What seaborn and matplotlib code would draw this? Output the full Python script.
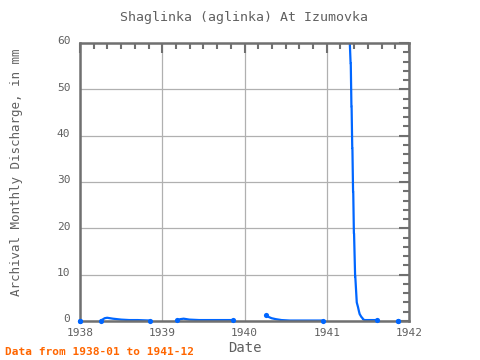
import numpy as np
import pandas as pd
import matplotlib
matplotlib.use("Agg")
import matplotlib.pyplot as plt
import seaborn as sns
from matplotlib.ticker import MultipleLocator
from matplotlib.transforms import ScaledTranslation

# decimal-year dates and discharge (mm), one list per unbroken run of data
seg_dates = [
    [1938.00],
    [1938.255, 1938.30, 1938.33, 1938.40, 1938.50, 1938.60, 1938.70, 1938.85],
    [1939.18, 1939.22, 1939.26, 1939.33, 1939.45, 1939.60, 1939.75, 1939.86],
    [1940.26, 1940.29, 1940.33, 1940.38, 1940.45, 1940.55, 1940.70, 1940.95],
    [1941.28, 1941.29, 1941.292, 1941.30, 1941.302, 1941.31, 1941.312, 1941.32,
     1941.322, 1941.33, 1941.332, 1941.345, 1941.347, 1941.362, 1941.365,
     1941.38, 1941.39, 1941.40, 1941.42, 1941.435, 1941.44, 1941.46,
     1941.50, 1941.61],
    [1941.87],
]
seg_values = [
    [0.1],
    [0.1, 0.6, 0.7, 0.5, 0.3, 0.2, 0.2, 0.1],
    [0.2, 0.4, 0.5, 0.3, 0.2, 0.2, 0.2, 0.2],
    [1.2, 0.9, 0.6, 0.4, 0.2, 0.1, 0.1, 0.1],
    [60.2, 55.6, 55.6, 46.3, 46.3, 37.3, 37.3, 27.9,
     27.9, 18.9, 18.9, 9.6, 9.6, 4.9, 4.0,
     3.0, 2.2, 1.5, 0.9, 0.6, 0.4, 0.2,
     0.2, 0.2],
    [0.1],
]

title = "Shaglinka (aglinka) At Izumovka"
ylabel = "Archival Monthly Discharge, in mm"
xlabel = "Date"
note = "Data from 1938-01 to 1941-12"

sns.set_style("white")
plt.rcParams["font.family"] = ["DejaVu Sans Mono", "Liberation Mono"]

line_color = "#0066ff"
axis_gray = "#707070"
text_gray = "#606060"
ymax = 60

fig = plt.figure(figsize=(4.8, 3.6), dpi=100)
ax = fig.add_axes([80 / 480, 1 - 321 / 360, 329 / 480, 278 / 360])

for d, v in zip(seg_dates, seg_values):
    df = pd.DataFrame({"date": d, "value": v})
    if len(df) > 1:
        sns.lineplot(data=df, x="date", y="value", ax=ax, color=line_color,
                     linewidth=1.6, estimator=None, sort=False)
    ends = df.iloc[[0, -1]]
    ends = ends[ends["value"] <= ymax]
    sns.scatterplot(data=ends, x="date", y="value", ax=ax, color=line_color,
                    s=14, linewidth=0, zorder=5, clip_on=False)

ax.set_xlim(1938, 1942)
ax.set_ylim(0, ymax)
ax.xaxis.set_minor_locator(MultipleLocator(1 / 6))
ax.yaxis.set_major_locator(MultipleLocator(10))
ax.yaxis.set_minor_locator(MultipleLocator(2))
ax.set_xticks([1938, 1939, 1940, 1941, 1942])
ax.set_xticklabels(["1938", "1939", "1940", "1941", "1942"])

ax.grid(True, which="major", color="#b0b0b0", linewidth=0.9)
ax.set_axisbelow(True)
for s in ax.spines.values():
    s.set_color(axis_gray)
    s.set_linewidth(1.8)
ax.tick_params(which="both", direction="in", top=True, right=True,
               color=axis_gray, labelcolor=text_gray, labelsize=8)
ax.tick_params(which="major", length=7, width=1.5)
ax.tick_params(which="minor", length=4, width=1.5)
ax.tick_params(axis="y", pad=7)
ax.tick_params(axis="x", pad=5)
for lab in ax.get_yticklabels():
    lab.set_transform(lab.get_transform() + ScaledTranslation(0, 2 / 72, fig.dpi_scale_trans))

ax.set_xlabel(xlabel, color=text_gray, fontsize=10, labelpad=2)
ax.set_ylabel(ylabel, color=text_gray, fontsize=9)
ax.yaxis.set_label_coords(-0.173, 0.536)
fig.text(0.5 * (80 + 409) / 480, 1 - 17 / 360, title, ha="center", va="center",
         color=text_gray, fontsize=9.5)
fig.text(5 / 480, 1 - 352 / 360, note, ha="left", va="center",
         color="#ff6600", fontsize=8, fontweight="bold")

fig.savefig("out.png", dpi=100, facecolor="white")
